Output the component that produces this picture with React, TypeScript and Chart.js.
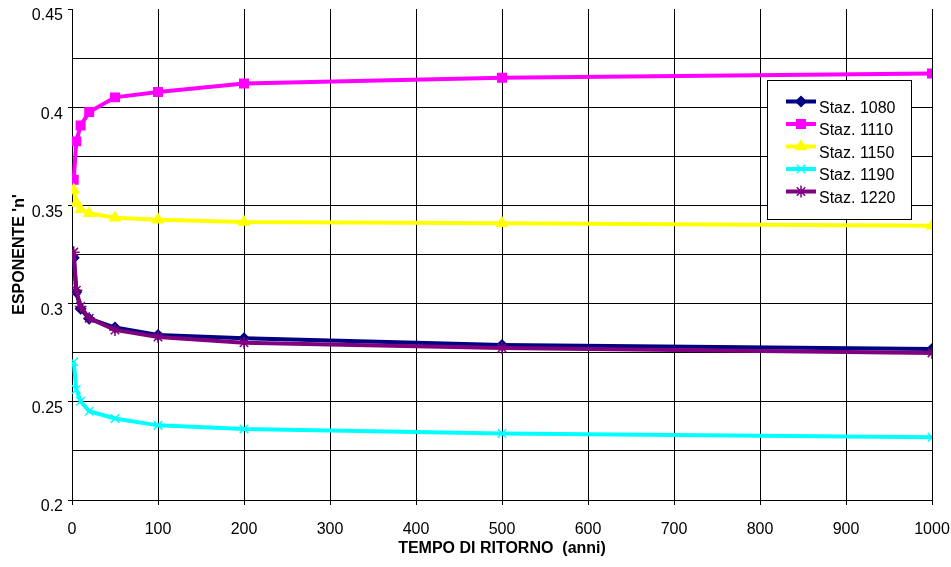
import React, { useEffect, useRef } from 'react';
import { Chart, registerables } from 'chart.js';
import { drawPoint } from 'chart.js/helpers';

Chart.register(...registerables);

// Return periods (years)
const returnPeriods = [2, 5, 10, 20, 50, 100, 200, 500, 1000];

// Series names
const seriesNames = ['Staz. 1080', 'Staz. 1110', 'Staz. 1150', 'Staz. 1190', 'Staz. 1220'];

// Exponent 'n' values per station
const staz1080 = [0.3233, 0.3059, 0.2974, 0.2923, 0.2878, 0.2840, 0.2823, 0.2789, 0.2769];
const staz1110 = [0.3631, 0.3826, 0.3907, 0.3975, 0.4050, 0.4077, 0.4121, 0.4150, 0.4172];
const staz1150 = [0.3578, 0.3512, 0.3480, 0.3460, 0.3437, 0.3427, 0.3415, 0.3409, 0.3396];
const staz1190 = [0.2704, 0.2563, 0.2503, 0.2452, 0.2415, 0.2380, 0.2362, 0.2339, 0.2319];
const staz1220 = [0.3262, 0.3068, 0.2985, 0.2925, 0.2866, 0.2830, 0.2801, 0.2774, 0.2749];

// Axis ranges / titles
const yMin = 0.2;
const yMax = 0.45;
const yStep = 0.025;
const xMin = 0;
const xMax = 1000;
const xStep = 100;
const xTitle = 'TEMPO DI RITORNO  (anni)';
const yTitle = "ESPONENTE 'n'";

const colors = ['#000080', '#FF00FF', '#FFFF00', '#00FFFF', '#800080'];
const pointStyles = ['rectRot', 'rect', 'triangle', 'crossRot', 'star'];
const pointRadii = [5, 6, 6, 6, 6];

const FONT = '"Liberation Sans", Arial, Helvetica, sans-serif';

const boxLegend = {
  id: 'boxLegend',
  afterDraw(chart: any) {
    const { ctx, chartArea } = chart;
    const x0 = chartArea.right - 165;
    const y0 = chartArea.top + 71;
    const w = 144;
    const h = 139;
    ctx.save();
    ctx.fillStyle = '#ffffff';
    ctx.fillRect(x0, y0, w, h);
    ctx.strokeStyle = '#000000';
    ctx.lineWidth = 1;
    ctx.strokeRect(Math.round(x0) + 0.5, Math.round(y0) + 0.5, w, h);
    chart.data.datasets.forEach((ds: any, i: number) => {
      const ly = y0 + 21.5 + i * 22.5;
      const lx1 = x0 + 19;
      const lx2 = x0 + 49;
      ctx.strokeStyle = ds.borderColor;
      ctx.lineWidth = 4;
      ctx.beginPath();
      ctx.moveTo(lx1, ly);
      ctx.lineTo(lx2, ly);
      ctx.stroke();
      ctx.fillStyle = ds.pointBackgroundColor;
      ctx.strokeStyle = ds.pointBorderColor;
      ctx.lineWidth = 1.5;
      drawPoint(ctx, { pointStyle: ds.pointStyle, radius: ds.pointRadius, rotation: 0, borderWidth: 1.5 }, (lx1 + lx2) / 2, ly);
      ctx.fillStyle = '#000000';
      ctx.font = `16px ${FONT}`;
      ctx.textAlign = 'left';
      ctx.textBaseline = 'middle';
      ctx.fillText(ds.label, x0 + 52, ly + 7);
    });
    ctx.restore();
  },
};

export default function App() {
  const canvasRef = useRef<HTMLCanvasElement | null>(null);

  useEffect(() => {
    document.body.style.margin = '0';
    const canvas = canvasRef.current;
    if (!canvas) return;
    const allSeries = [staz1080, staz1110, staz1150, staz1190, staz1220];
    const datasets = allSeries.map((vals, i) => ({
      label: seriesNames[i],
      data: returnPeriods.map((x, j) => ({ x, y: vals[j] })),
      borderColor: colors[i],
      backgroundColor: colors[i],
      pointBackgroundColor: colors[i],
      pointBorderColor: colors[i],
      pointStyle: pointStyles[i],
      pointRadius: pointRadii[i],
      pointBorderWidth: 1.5,
      borderWidth: 4,
      tension: 0,
      fill: false,
      order: allSeries.length - i,
    }));

    const chart = new Chart(canvas, {
      type: 'line',
      data: { datasets },
      plugins: [boxLegend],
      options: {
        animation: false,
        responsive: true,
        maintainAspectRatio: false,
        layout: { padding: { left: 0, right: 19, top: 9, bottom: 0 } },
        plugins: {
          legend: { display: false },
          tooltip: { enabled: false },
          title: { display: false },
        },
        scales: {
          x: {
            type: 'linear',
            min: xMin,
            max: xMax,
            ticks: {
              stepSize: xStep,
              color: '#000',
              font: { family: FONT, size: 16 },
              padding: 15,
              maxRotation: 0,
              callback: (v: any) => String(v),
            },
            grid: {
              color: '#000',
              lineWidth: 1,
              tickLength: 5,
              tickColor: '#000',
            },
            border: { color: '#000', width: 1 },
            title: {
              display: true,
              text: xTitle,
              color: '#000',
              font: { family: FONT, size: 16, weight: 'bold' },
              padding: { top: 0, bottom: 9 },
            },
            afterFit: (scale: any) => {
              scale.height = 67;
              scale.paddingLeft = 0;
              scale.paddingRight = 0;
            },
          },
          y: {
            type: 'linear',
            min: yMin,
            max: yMax,
            ticks: {
              stepSize: yStep,
              color: '#000',
              font: { family: FONT, size: 16 },
              padding: 5,
              labelOffset: 7,
              callback: (v: any) => {
                const n = Number(v);
                const r = Math.round(n * 20);
                return Math.abs(n * 20 - r) < 1e-6 ? String(+(r / 20).toFixed(2)) : '';
              },
            },
            grid: {
              color: (ctx: any) =>
                ctx.tick && Math.abs(ctx.tick.value - yMax) < 1e-6 ? 'rgba(0,0,0,0)' : '#000',
              lineWidth: 1,
              tickLength: 4,
              tickColor: (ctx: any) => (ctx.tick && ctx.tick.label === '' ? 'rgba(0,0,0,0)' : '#000'),
            },
            border: { color: '#000', width: 1 },
            title: {
              display: true,
              text: yTitle,
              color: '#000',
              font: { family: FONT, size: 16, weight: 'bold' },
              padding: { top: 10, bottom: 0 },
            },
            afterFit: (scale: any) => {
              scale.width = 72;
              scale.paddingTop = 0;
              scale.paddingBottom = 0;
            },
          },
        },
      },
    } as any);

    return () => {
      chart.destroy();
    };
  }, []);

  return (
    <div style={{ width: 951, height: 567, position: 'relative' }}>
      <canvas ref={canvasRef} />
    </div>
  );
}
